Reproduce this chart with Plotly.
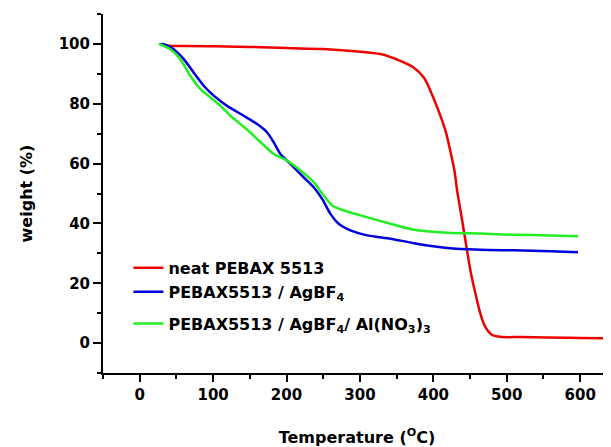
import plotly.graph_objects as go

# neat PEBAX 5513
t_neat = [28, 40, 60, 100, 150, 200, 250, 300.8, 328, 355, 373, 387, 398, 407, 416.5, 423, 428.7, 432.4, 437, 443.7, 450.5, 457.3, 464, 470.8, 480, 491, 518.7, 555, 600, 645]
w_neat = [100, 99.4, 99.3, 99.2, 99.0, 98.6, 98.3, 97.4, 96.6, 94.3, 92.1, 88.8, 83.2, 77.7, 71.0, 64.3, 57.7, 51.0, 44.3, 34.3, 24.3, 16.6, 9.9, 5.4, 2.7, 2.1, 2.0, 1.9, 1.7, 1.6]

# PEBAX5513 / AgBF4
t_ag = [28.5, 32.7, 46.3, 60, 73.6, 87.2, 100.8, 119, 141.7, 160, 173.6, 182.6, 191.6, 205.3, 223.4, 237, 248.5, 259.8, 271, 287, 309.8, 341.6, 373.5, 419, 464, 510, 560, 597]
w_ag = [100, 99.9, 98.2, 94.9, 90.4, 86.0, 82.7, 79.3, 76.0, 73.2, 70.4, 67.1, 63.2, 59.9, 55.4, 52.1, 48.2, 43.2, 39.9, 37.7, 36.0, 34.9, 33.4, 31.8, 31.2, 31.0, 30.7, 30.4]

# PEBAX5513 / AgBF4 / Al(NO3)3
t_al = [26, 41.8, 55.4, 69, 82.7, 96.3, 110, 123.6, 137.2, 150.8, 164.4, 182.6, 200.8, 219, 237, 250.7, 262, 278, 300.7, 341.6, 373.5, 419, 464, 510, 560, 597]
w_al = [100, 98.2, 94.9, 89.3, 84.9, 82.1, 79.3, 76.0, 73.2, 70.4, 67.2, 63.2, 61.0, 57.7, 53.8, 49.3, 46.0, 44.3, 42.7, 39.9, 37.9, 36.9, 36.6, 36.2, 36.0, 35.7]

names = ["neat PEBAX 5513", "PEBAX5513 / AgBF<sub>4</sub>", "PEBAX5513 / AgBF<sub>4</sub>/ Al(NO<sub>3</sub>)<sub>3</sub>"]
colors = ["#ee0000", "#0000dd", "#22ee22"]
groups = ["a", "a", "b"]
smooth = [1.0, 0.6, 0.6]

x_ticks = [0, 100, 200, 300, 400, 500, 600]
y_ticks = [0, 20, 40, 60, 80, 100]

fig = go.Figure()
for t, w, n, c, g, s in zip([t_neat, t_ag, t_al], [w_neat, w_ag, w_al], names, colors, groups, smooth):
    fig.add_trace(go.Scatter(x=t, y=w, mode="lines", name=n, legendgroup=g,
                             line=dict(color=c, width=2.5, shape="spline", smoothing=s)))

font_family = "DejaVu Sans"
# the page body has an 8px default margin; size the figure to fit the 611x447 window
fig.update_layout(
    width=603, height=439,
    margin=dict(l=95, r=0, t=6, b=74),
    paper_bgcolor="white", plot_bgcolor="white",
    font=dict(family=font_family, color="black"),
    showlegend=True,
    legend=dict(x=0.05, y=0.34, xanchor="left", yanchor="top",
                bgcolor="rgba(0,0,0,0)", borderwidth=0,
                font=dict(family=font_family, size=16, color="black", weight="bold"),
                tracegroupgap=8),
)
fig.update_xaxes(
    range=[-50, 642], tickvals=x_ticks, ticktext=[str(v) for v in x_ticks],
    showgrid=False, zeroline=False, showline=True, linecolor="black", linewidth=2,
    ticks="outside", ticklen=7, tickwidth=2, tickcolor="black",
    tickfont=dict(family=font_family, size=15, weight="bold"),
    minor=dict(dtick=50, tick0=0, ticks="outside", ticklen=4, tickwidth=2, tickcolor="black", showgrid=False),
    title=dict(text="Temperature (<sup>O</sup>C)", font=dict(family=font_family, size=16, weight="bold"), standoff=29),
)
fig.update_yaxes(
    range=[-10, 110], tickvals=y_ticks, ticktext=[str(v) for v in y_ticks],
    showgrid=False, zeroline=False, showline=True, linecolor="black", linewidth=2,
    ticks="outside", ticklen=8, tickwidth=2, tickcolor="black",
    tickfont=dict(family=font_family, size=15, weight="bold"),
    minor=dict(dtick=10, tick0=0, ticks="outside", ticklen=4, tickwidth=2, tickcolor="black", showgrid=False),
    title=dict(text="weight (%)", font=dict(family=font_family, size=16, weight="bold"), standoff=22),
)

fig.write_html("out.html")
